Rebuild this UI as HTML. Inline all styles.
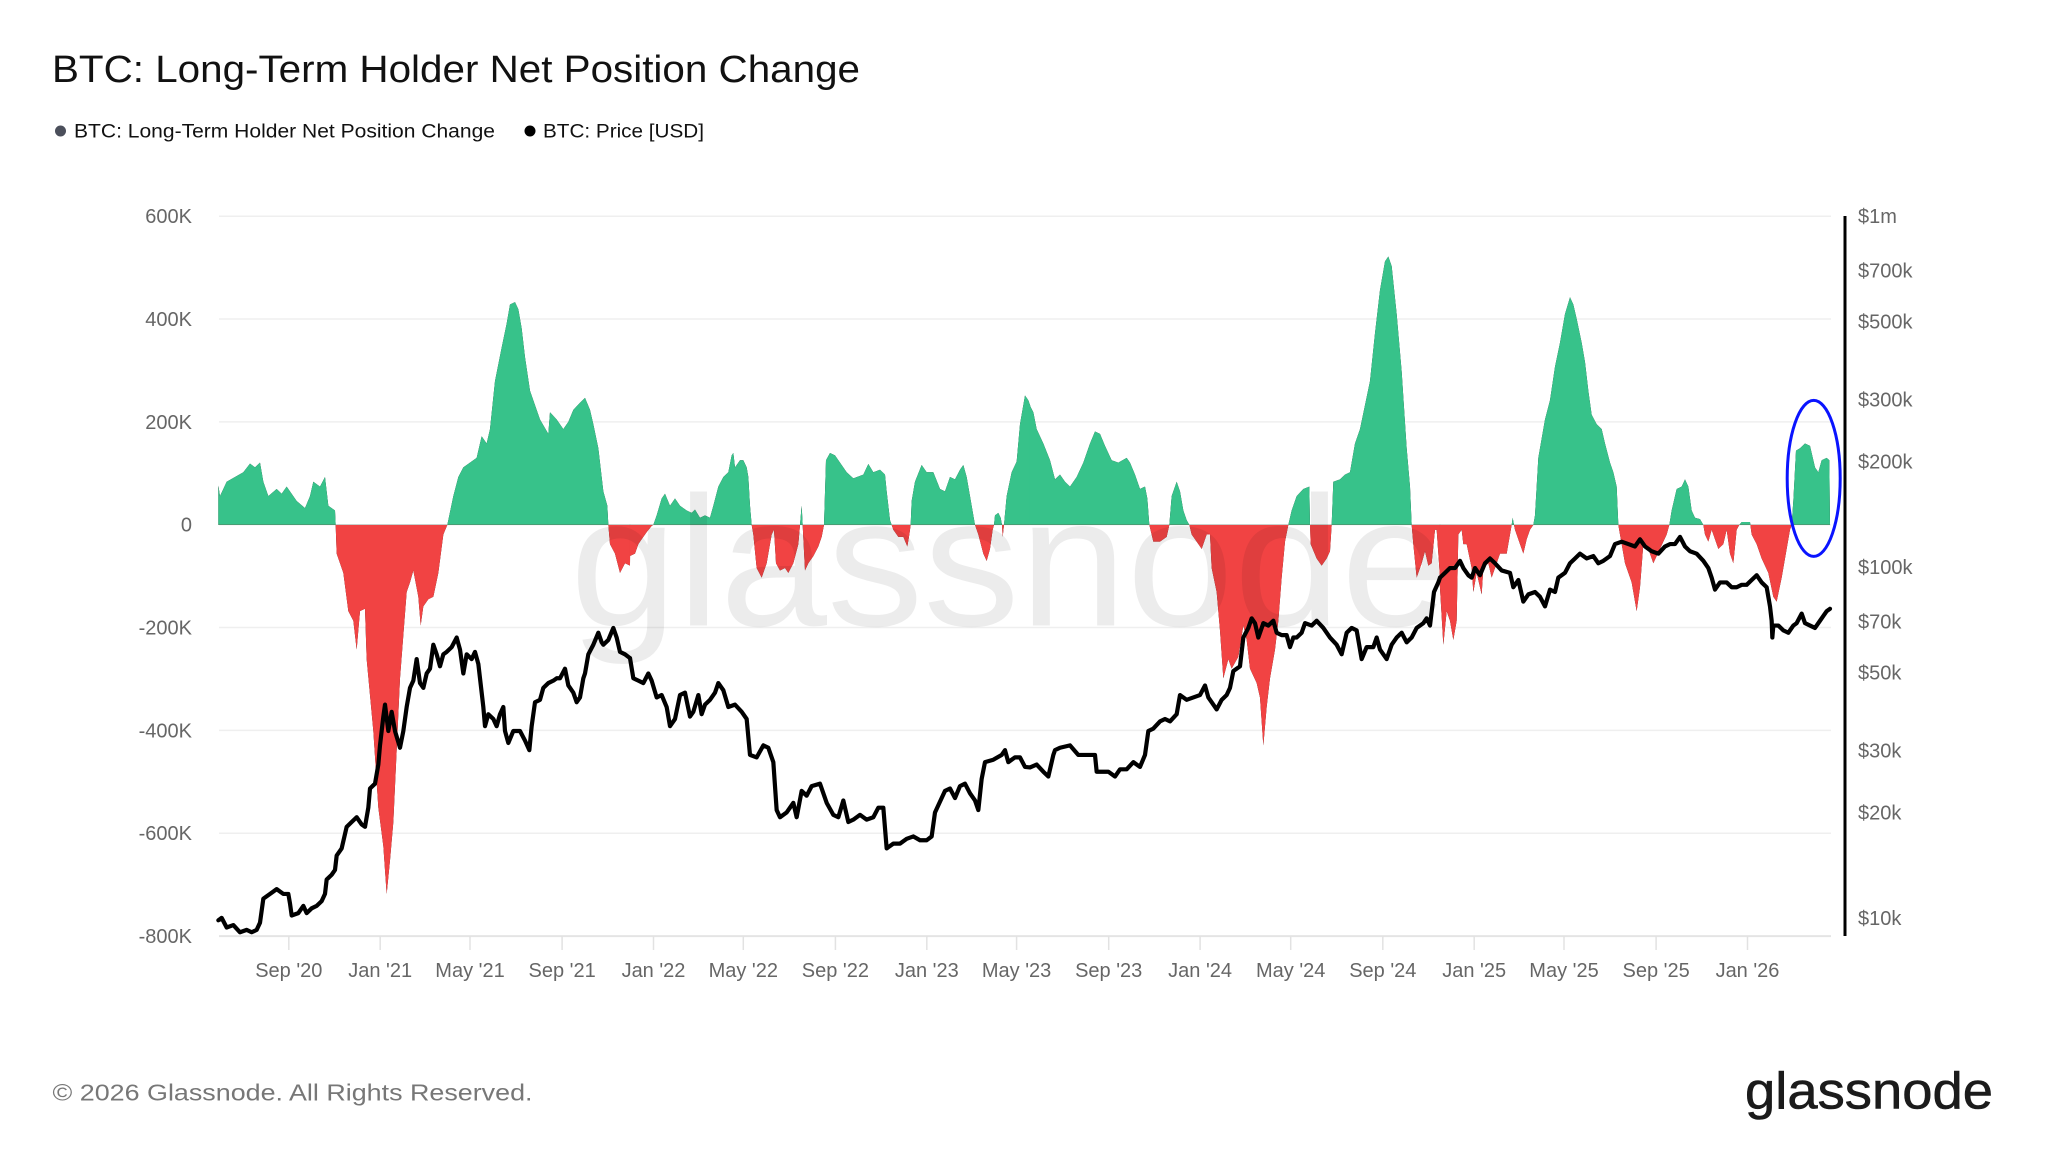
<!DOCTYPE html>
<html>
<head>
<meta charset="utf-8">
<style>
html,body{margin:0;padding:0;background:#fff;}
body{width:2048px;height:1152px;overflow:hidden;}
svg{display:block;}
text{font-family:"Liberation Sans",Arial,sans-serif;}
</style>
</head>
<body>
<svg width="2048" height="1152" viewBox="0 0 2048 1152" xmlns="http://www.w3.org/2000/svg">
<defs>
  <clipPath id="above"><rect x="200" y="0" width="1700" height="524.9"/></clipPath>
  <clipPath id="below"><rect x="200" y="524.9" width="1700" height="500"/></clipPath>
</defs>
<rect width="2048" height="1152" fill="#fff"/>

<!-- Title -->
<text x="52" y="82" font-size="38" fill="#111" textLength="808" lengthAdjust="spacingAndGlyphs">BTC: Long-Term Holder Net Position Change</text>

<!-- Legend -->
<circle cx="60.5" cy="131" r="5.5" fill="#4b4f5b"/>
<text x="74" y="137.5" font-size="19" fill="#111" textLength="421" lengthAdjust="spacingAndGlyphs">BTC: Long-Term Holder Net Position Change</text>
<circle cx="530" cy="131" r="5.5" fill="#000"/>
<text x="543" y="137.5" font-size="19" fill="#111" textLength="161" lengthAdjust="spacingAndGlyphs">BTC: Price [USD]</text>

<!-- Gridlines -->
<g stroke="#efefef" stroke-width="1.5">
  <line x1="219" x2="1831" y1="216.2" y2="216.2"/>
  <line x1="219" x2="1831" y1="319.0" y2="319.0"/>
  <line x1="219" x2="1831" y1="421.9" y2="421.9"/>
  <line x1="219" x2="1831" y1="524.7" y2="524.7"/>
  <line x1="219" x2="1831" y1="627.5" y2="627.5"/>
  <line x1="219" x2="1831" y1="730.4" y2="730.4"/>
  <line x1="219" x2="1831" y1="833.2" y2="833.2"/>
</g>
<line x1="219" x2="1831" y1="936.1" y2="936.1" stroke="#e4e4e4" stroke-width="2"/>

<!-- X ticks -->
<g stroke="#e2e2e2" stroke-width="1.5">
  <line x1="288.8" x2="288.8" y1="936" y2="950"/>
  <line x1="380.2" x2="380.2" y1="936" y2="950"/>
  <line x1="470.0" x2="470.0" y1="936" y2="950"/>
  <line x1="562.1" x2="562.1" y1="936" y2="950"/>
  <line x1="653.5" x2="653.5" y1="936" y2="950"/>
  <line x1="743.3" x2="743.3" y1="936" y2="950"/>
  <line x1="835.4" x2="835.4" y1="936" y2="950"/>
  <line x1="926.8" x2="926.8" y1="936" y2="950"/>
  <line x1="1016.6" x2="1016.6" y1="936" y2="950"/>
  <line x1="1108.7" x2="1108.7" y1="936" y2="950"/>
  <line x1="1200.1" x2="1200.1" y1="936" y2="950"/>
  <line x1="1290.7" x2="1290.7" y1="936" y2="950"/>
  <line x1="1382.8" x2="1382.8" y1="936" y2="950"/>
  <line x1="1474.2" x2="1474.2" y1="936" y2="950"/>
  <line x1="1564.0" x2="1564.0" y1="936" y2="950"/>
  <line x1="1656.1" x2="1656.1" y1="936" y2="950"/>
  <line x1="1747.5" x2="1747.5" y1="936" y2="950"/>
</g>

<!-- Left axis labels -->
<g font-size="20" fill="#666" text-anchor="end">
  <text x="192" y="223.2">600K</text>
  <text x="192" y="326">400K</text>
  <text x="192" y="428.9">200K</text>
  <text x="192" y="531.7">0</text>
  <text x="192" y="634.5">-200K</text>
  <text x="192" y="737.4">-400K</text>
  <text x="192" y="840.2">-600K</text>
  <text x="192" y="943.1">-800K</text>
</g>

<!-- X labels -->
<g font-size="20" fill="#666" text-anchor="middle">
  <text x="288.8" y="977">Sep '20</text>
  <text x="380.2" y="977">Jan '21</text>
  <text x="470.0" y="977">May '21</text>
  <text x="562.1" y="977">Sep '21</text>
  <text x="653.5" y="977">Jan '22</text>
  <text x="743.3" y="977">May '22</text>
  <text x="835.4" y="977">Sep '22</text>
  <text x="926.8" y="977">Jan '23</text>
  <text x="1016.6" y="977">May '23</text>
  <text x="1108.7" y="977">Sep '23</text>
  <text x="1200.1" y="977">Jan '24</text>
  <text x="1290.7" y="977">May '24</text>
  <text x="1382.8" y="977">Sep '24</text>
  <text x="1474.2" y="977">Jan '25</text>
  <text x="1564.0" y="977">May '25</text>
  <text x="1656.1" y="977">Sep '25</text>
  <text x="1747.5" y="977">Jan '26</text>
</g>

<!-- Right axis -->
<line x1="1845" x2="1845" y1="216" y2="936" stroke="#000" stroke-width="3"/>
<g font-size="20" fill="#666">
  <text x="1858" y="223">$1m</text>
  <text x="1858" y="277.4">$700k</text>
  <text x="1858" y="328.7">$500k</text>
  <text x="1858" y="406.5">$300k</text>
  <text x="1858" y="468.3">$200k</text>
  <text x="1858" y="574">$100k</text>
  <text x="1858" y="628.4">$70k</text>
  <text x="1858" y="679.7">$50k</text>
  <text x="1858" y="757.5">$30k</text>
  <text x="1858" y="819.3">$20k</text>
  <text x="1858" y="925">$10k</text>
</g>

<!-- Area series -->
<g id="area">
  <path transform="translate(210,199.03) scale(0.33333,0.47924)" d="M25,680 L25,598 L30,620 L50,590 L75,580 L100,570 L120,552 L135,560 L150,550 L160,590 L175,620 L200,605 L215,615 L230,600 L260,630 L285,645 L300,620 L310,590 L330,600 L345,580 L355,640 L375,650 L377,680 L380,740 L400,780 L415,860 L430,880 L440,940 L450,860 L465,855 L470,960 L490,1110 L505,1270 L520,1350 L530,1450 L540,1380 L550,1300 L560,1150 L570,1000 L590,820 L600,800 L610,775 L625,830 L632,890 L640,850 L655,835 L670,830 L685,780 L700,700 L712,680 L730,620 L745,580 L760,560 L780,550 L800,540 L815,495 L830,510 L840,480 L855,380 L875,310 L890,260 L900,220 L915,215 L925,230 L935,270 L945,330 L960,400 L975,430 L990,460 L1015,490 L1020,445 L1040,460 L1060,480 L1075,465 L1090,440 L1110,425 L1125,415 L1140,440 L1150,470 L1165,520 L1180,610 L1192,640 L1195,680 L1200,720 L1215,740 L1230,780 L1245,760 L1260,765 L1261,680 Z"/>
  <path transform="translate(620,199.03) scale(0.33333,0.47924)" d="M29,680 L29,745 L45,740 L55,720 L65,710 L80,695 L95,682 L100,680 L110,660 L125,625 L135,615 L150,640 L165,625 L180,640 L200,650 L215,655 L225,648 L240,665 L255,660 L270,665 L280,640 L295,600 L310,580 L325,570 L335,535 L340,530 L345,560 L360,545 L370,545 L380,560 L385,580 L390,640 L395,680 L400,700 L410,770 L425,790 L440,760 L455,700 L462,690 L468,760 L480,775 L495,770 L505,780 L520,760 L535,720 L540,680 L545,640 L548,680 L555,775 L565,760 L580,745 L595,725 L605,705 L612,680 L618,545 L630,530 L645,535 L660,550 L680,570 L700,583 L730,575 L745,553 L760,570 L780,565 L795,575 L800,610 L810,670 L815,680 L820,690 L835,705 L850,705 L862,725 L868,700 L872,680 L875,630 L885,590 L905,555 L920,570 L940,570 L960,605 L975,610 L990,580 L1005,585 L1020,565 L1030,555 L1040,580 L1050,620 L1060,660 L1065,680 L1075,700 L1090,740 L1100,755 L1110,730 L1118,690 L1122,680 L1125,660 L1135,655 L1142,665 L1146,680 L1148,705 L1152,680 L1160,620 L1175,570 L1190,548 L1200,470 L1215,410 L1225,420 L1231,432 L1231,680 Z"/>
  <path transform="translate(1030,199.03) scale(0.33333,0.47924)" d="M-1,680 L-1,430 L10,445 L20,480 L40,510 L60,545 L75,585 L90,575 L105,590 L120,600 L140,580 L160,550 L180,510 L195,485 L210,490 L225,515 L245,545 L265,550 L290,540 L300,550 L315,575 L330,605 L345,600 L352,625 L358,680 L370,715 L390,715 L410,705 L418,680 L425,620 L440,590 L450,610 L460,650 L470,670 L478,680 L485,700 L500,715 L515,730 L530,700 L540,700 L545,770 L560,820 L570,900 L580,1000 L595,960 L605,980 L625,955 L640,890 L650,920 L660,980 L680,1010 L690,1040 L700,1140 L710,1060 L720,1000 L735,940 L745,880 L755,790 L765,715 L775,680 L785,650 L800,620 L820,605 L838,600 L840,680 L842,720 L860,750 L875,765 L890,750 L900,735 L905,680 L910,590 L930,585 L945,575 L960,570 L975,510 L990,480 L1005,430 L1020,380 L1035,280 L1050,190 L1065,130 L1075,120 L1085,140 L1100,240 L1115,360 L1130,520 L1140,600 L1145,680 L1150,720 L1160,790 L1175,760 L1185,735 L1195,765 L1205,760 L1215,690 L1220,690 L1231,800 L1231,680 Z"/>
  <path transform="translate(1440,199.03) scale(0.33333,0.47924)" d="M-1,680 L-1,800 L10,930 L20,860 L30,880 L40,920 L50,880 L55,700 L65,690 L70,720 L80,720 L95,770 L100,820 L110,780 L125,825 L130,770 L145,760 L155,790 L165,770 L180,740 L200,740 L215,680 L218,665 L222,680 L225,690 L240,720 L250,740 L260,710 L270,690 L280,680 L285,660 L295,540 L305,500 L315,460 L330,420 L345,350 L360,300 L375,240 L390,205 L400,220 L410,250 L425,300 L435,340 L445,400 L455,450 L470,470 L485,480 L495,510 L510,550 L520,570 L530,600 L535,680 L540,700 L555,760 L575,800 L590,860 L600,810 L610,720 L625,730 L640,760 L660,730 L680,700 L688,680 L695,650 L710,605 L725,600 L735,585 L745,600 L755,650 L765,665 L780,668 L790,680 L795,700 L805,715 L815,690 L820,700 L835,730 L850,720 L860,690 L870,740 L880,760 L890,690 L898,680 L905,674 L930,674 L935,700 L950,720 L965,750 L985,780 L1000,830 L1010,840 L1025,790 L1040,730 L1050,690 L1055,680 L1060,630 L1068,525 L1080,520 L1095,510 L1110,515 L1125,560 L1135,570 L1145,545 L1160,540 L1168,545 L1170,680 Z"/>
</g>
<use href="#area" fill="#37c28a" clip-path="url(#above)"/>
<use href="#area" fill="#f14343" clip-path="url(#below)"/>

<!-- Watermark -->
<text x="570" y="625.5" font-size="185" fill="#000" fill-opacity="0.075" textLength="878" lengthAdjust="spacingAndGlyphs">glassnode</text>

<!-- Price line -->
<g fill="none" stroke="#000" stroke-width="4.2" stroke-linejoin="round" stroke-linecap="round">
  <path vector-effect="non-scaling-stroke" transform="translate(210,199.03) scale(0.33333,0.47924)" d="M25,1505 L35,1500 L50,1520 L70,1515 L90,1530 L110,1525 L125,1530 L140,1525 L150,1510 L160,1460 L180,1450 L200,1440 L220,1450 L235,1450 L240,1470 L245,1495 L265,1490 L280,1475 L290,1490 L305,1480 L320,1475 L335,1465 L345,1450 L350,1420 L365,1410 L375,1400 L380,1370 L395,1355 L410,1310 L425,1300 L440,1290 L455,1305 L465,1310 L475,1270 L480,1230 L495,1220 L505,1180 L510,1140 L520,1080 L525,1055 L535,1110 L545,1070 L555,1110 L570,1145 L580,1110 L590,1060 L600,1020 L610,1005 L620,960 L630,1010 L640,1020 L650,990 L660,980 L670,930 L680,950 L690,975 L700,950 L710,945 L725,935 L740,915 L750,940 L760,990 L770,950 L785,960 L795,945 L805,970 L810,1000 L820,1060 L825,1100 L835,1075 L850,1085 L860,1100 L870,1075 L880,1060 L885,1110 L895,1135 L910,1110 L930,1110 L945,1130 L958,1150 L965,1100 L975,1050 L990,1045 L1000,1020 L1015,1010 L1030,1005 L1040,1000 L1050,1000 L1065,980 L1075,1015 L1080,1020 L1090,1030 L1100,1050 L1110,1040 L1120,1000 L1125,990 L1135,950 L1150,930 L1165,905 L1175,925 L1180,930 L1195,920 L1210,895 L1220,915 L1230,945 L1245,950 L1260,958"/>
  <path vector-effect="non-scaling-stroke" transform="translate(620,199.03) scale(0.33333,0.47924)" d="M30,958 L40,1000 L55,1005 L70,1010 L85,990 L95,1005 L110,1040 L125,1035 L140,1060 L150,1100 L165,1085 L180,1035 L195,1030 L210,1080 L220,1070 L235,1035 L245,1075 L255,1055 L270,1045 L285,1030 L295,1010 L310,1025 L325,1060 L345,1055 L365,1070 L380,1085 L390,1160 L410,1165 L430,1140 L445,1145 L460,1175 L470,1275 L480,1290 L500,1280 L520,1260 L530,1290 L545,1235 L560,1245 L575,1225 L600,1220 L620,1260 L640,1285 L655,1290 L670,1255 L685,1300 L700,1295 L720,1285 L740,1295 L760,1290 L775,1270 L790,1270 L800,1355 L820,1345 L840,1345 L860,1335 L880,1330 L900,1338 L920,1338 L935,1330 L945,1280 L955,1265 L975,1235 L990,1230 L1005,1250 L1020,1225 L1035,1220 L1050,1240 L1065,1255 L1075,1275 L1085,1210 L1095,1175 L1120,1170 L1145,1160 L1155,1150 L1165,1175 L1185,1165 L1200,1165 L1215,1185 L1230,1186"/>
  <path vector-effect="non-scaling-stroke" transform="translate(1030,199.03) scale(0.33333,0.47924)" d="M0,1186 L20,1180 L40,1195 L55,1205 L70,1160 L75,1150 L90,1145 L120,1140 L145,1160 L170,1160 L195,1160 L200,1195 L220,1195 L235,1195 L255,1205 L270,1190 L290,1190 L310,1175 L330,1185 L345,1160 L355,1110 L370,1105 L390,1090 L405,1085 L420,1090 L440,1075 L450,1035 L470,1045 L490,1040 L510,1035 L525,1015 L535,1040 L545,1050 L560,1065 L575,1045 L590,1035 L600,1020 L610,985 L630,975 L640,915 L655,895 L665,875 L675,885 L685,915 L700,885 L715,890 L730,880 L740,905 L755,910 L770,910 L780,935 L790,915 L800,915 L815,905 L825,885 L845,890 L860,880 L880,895 L900,915 L920,930 L935,950 L950,905 L965,895 L980,900 L995,960 L1010,935 L1030,935 L1040,915 L1050,940 L1070,960 L1085,930 L1100,915 L1115,905 L1130,925 L1145,915 L1160,895 L1180,885 L1190,875 L1200,890 L1212,820 L1225,800 L1230,790"/>
  <path vector-effect="non-scaling-stroke" transform="translate(1440,199.03) scale(0.33333,0.47924)" d="M0,790 L15,780 L30,770 L45,770 L60,755 L70,770 L85,785 L95,790 L105,770 L120,785 L135,760 L150,750 L165,760 L185,775 L210,780 L220,810 L235,795 L250,840 L265,825 L285,820 L300,830 L315,850 L330,815 L345,820 L355,790 L375,780 L390,760 L405,750 L420,740 L440,750 L460,745 L475,760 L490,755 L510,745 L525,720 L545,715 L565,720 L585,725 L600,710 L615,725 L635,735 L655,740 L675,725 L690,720 L705,720 L720,705 L735,725 L750,735 L770,740 L790,755 L805,770 L815,790 L825,815 L840,800 L860,800 L875,810 L890,810 L905,805 L920,805 L935,795 L950,785 L965,800 L980,810 L990,850 L995,880 L997,915 L1000,890 L1015,890 L1030,900 L1045,905 L1060,890 L1070,885 L1085,865 L1095,885 L1110,890 L1125,895 L1140,880 L1150,870 L1160,860 L1170,855"/>
</g>

<!-- Blue ellipse annotation -->
<ellipse cx="1813.7" cy="478.4" rx="26.5" ry="78" fill="none" stroke="#0a14ff" stroke-width="3"/>

<!-- Footer -->
<text x="52.5" y="1100.5" font-size="23.5" fill="#777" textLength="480" lengthAdjust="spacingAndGlyphs">© 2026 Glassnode. All Rights Reserved.</text>
<text x="1745" y="1108.5" font-size="52" fill="#1b1b1b" stroke="#1b1b1b" stroke-width="0.6" textLength="248" lengthAdjust="spacingAndGlyphs">glassnode</text>
</svg>
</body>
</html>
